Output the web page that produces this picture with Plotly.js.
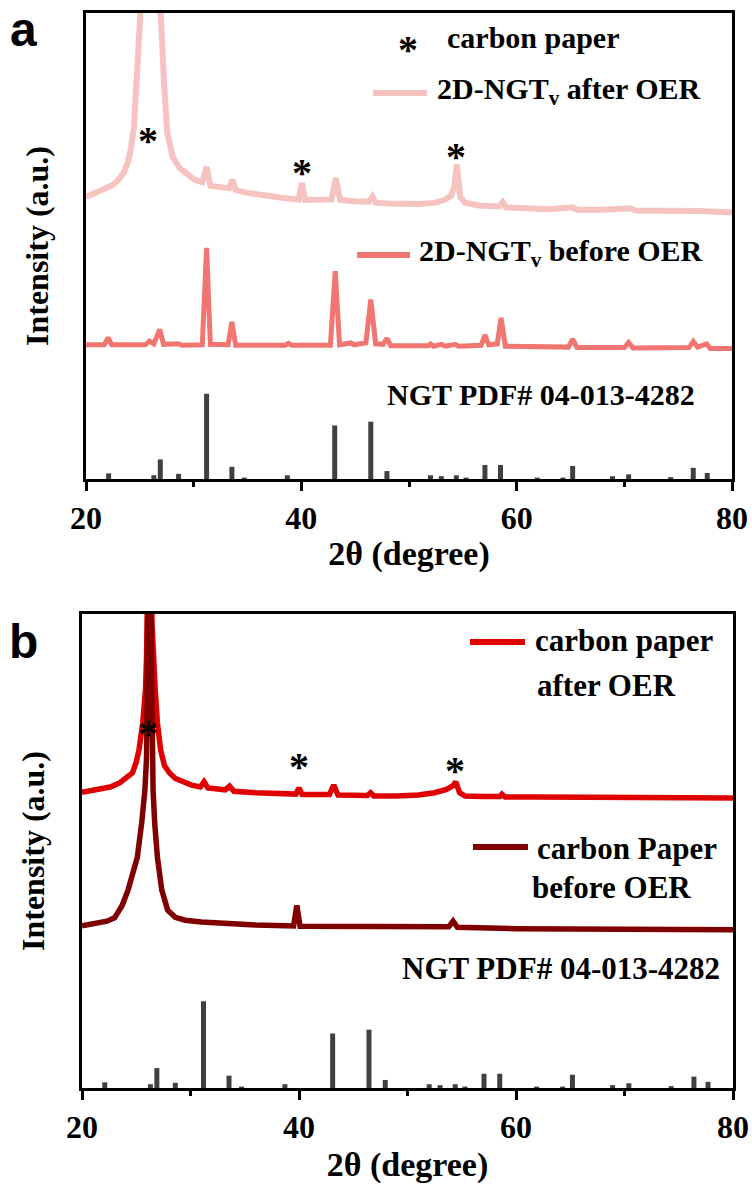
<!DOCTYPE html>
<html>
<head>
<meta charset="utf-8">
<script src="https://cdn.plot.ly/plotly-3.0.1.min.js"></script>
</head>
<body style="margin:0">
<div id="chart" style="width:752px;height:1196px"></div>
<script>
// ---------- Panel a : 2D-NGTv after OER ----------
const aAfterX = [20,20.8,21.7,22.5,23.0,23.5,23.9,24.15,24.45,24.75,25.1,25.35,25.6,26.05,26.5,26.8,26.95,27.25,27.55,28.05,28.7,29.4,30.1,30.8,31.2,31.55,32.5,33.3,33.6,33.9,35,36.5,38,39.75,40.05,40.35,41.5,42.8,43.2,43.6,45,46.3,46.6,46.9,48,49.5,51,52.5,53.3,53.9,54.2,54.45,54.75,55.2,56.5,58.4,58.7,59.0,61,63,65.2,65.6,68,70.6,71,74,77,80];
const aAfterY = [60.5,61.3,62.1,63.1,64.2,65.7,68,70.6,75.5,85,95.7,105,120,140,120,105,95.7,85,74.2,69.1,66.7,65.3,64.2,63.7,67.0,62.9,62.6,62.4,64.2,62.0,61.4,60.8,60.4,60.0,63.5,59.9,59.8,60.0,64.6,59.9,59.6,59.5,60.6,59.3,59.1,59.0,59.0,59.3,59.9,60.8,62.5,67.5,60.5,59.3,58.7,58.5,59.4,58.3,58.1,57.9,58.3,57.8,57.8,58.1,57.6,57.6,57.5,57.2];

// ---------- Panel a : 2D-NGTv before OER ----------
const aBeforeX = [20,21.7,22.05,22.4,25.5,25.9,26.3,26.85,27.2,28.3,28.6,28.9,30.8,31.2,31.55,33.2,33.55,33.9,38.5,38.8,39.1,42.7,43.15,43.55,44.3,44.6,44.9,46.0,46.45,46.9,47.6,47.95,48.3,51.8,52.0,52.3,53.0,53.4,54.3,54.6,56.7,57.05,57.4,58.2,58.55,58.95,64.8,65.2,65.6,70.0,70.4,70.8,76.0,76.4,76.8,77.65,78.0,80];
const aBeforeY = [28.8,28.8,30.3,28.8,28.8,29.6,29.0,32.1,28.9,28.8,29.0,28.7,28.8,49.6,28.9,28.8,33.7,28.7,28.7,29.1,28.7,28.7,44.6,28.8,28.9,29.2,28.8,29.2,38.5,29.0,28.9,30.2,28.6,28.6,29.0,28.5,28.9,28.5,28.9,28.5,28.7,30.9,28.8,29.0,34.6,28.5,28.3,30.0,28.2,28.2,29.3,28.1,28.2,29.5,28.3,29.0,28.0,28.0];

// ---------- NGT PDF# 04-013-4282 reference sticks (both panels) ----------
const pdfPos = [22.1,26.3,26.9,28.6,31.2,33.55,34.7,38.7,43.1,46.45,47.95,52.0,53.0,54.4,55.3,57.05,58.5,61.9,64.3,65.2,68.9,70.4,74.3,76.4,77.7];
const pdfHeight = [1.2,0.8,4.2,1.1,18.3,2.6,0.3,0.8,11.5,12.3,1.7,0.8,0.6,0.8,0.3,3.0,3.0,0.3,0.3,2.8,0.6,1.0,0.4,2.4,1.3];

// ---------- Panel b : carbon paper after OER ----------
const bAfterX = [20,21.5,22.6,23.5,24.2,24.65,25.0,25.25,25.6,25.85,25.95,26.05,26.25,26.45,26.55,26.75,26.95,27.25,27.6,28.05,28.6,29.3,30.1,30.9,31.25,31.6,33.2,33.6,34.0,36,38,39.7,40.0,40.3,42.8,43.2,43.6,46.3,46.6,46.9,49,51,52.5,53.6,54.2,54.45,54.8,55.3,57,58.5,58.7,59.0,62,66,70,75,80];
const bAfterY = [62.4,62.9,63.5,64.4,65.6,66.5,68.8,71.3,77,84,91,98,140,98,91,84,77,71.3,68,66.5,65.3,64.5,63.9,63.5,64.6,63.3,62.9,63.7,62.6,62.3,62.1,62.0,63.3,61.9,61.9,63.9,61.8,61.7,62.3,61.6,61.6,61.8,62.3,63.0,63.8,64.6,62.3,61.6,61.5,61.5,62.0,61.4,61.4,61.3,61.3,61.2,61.2];

// ---------- Panel b : carbon Paper before OER ----------
const bBeforeX = [20,21.5,22.3,23.0,23.7,24.25,24.7,25.1,25.5,25.8,25.95,26.1,26.2,26.35,26.45,26.55,26.7,26.95,27.35,27.9,28.6,29.5,31,33,36,39.5,39.8,40.1,44,50,53.8,54.2,54.6,60,70,80];
const bBeforeY = [34.2,34.7,35.2,35.9,38.5,41.8,45,48.7,55.9,62.9,69.8,100,135,100,69.8,62.9,55.9,48.7,41.8,37.5,36.0,35.4,35.0,34.7,34.4,34.2,38.5,34.1,34.0,33.9,34.0,35.2,33.9,33.6,33.5,33.4];

// ---------- carbon-paper star markers ----------
const starAX = [25.8, 40.05, 54.4];
const starAY = [74.5, 67.8, 71.2];
const starBX = [26.1, 40.0, 54.4];
const starBY = [76.6, 69.8, 68.8];

// ---------- tick labels ----------
const tickVals = [20, 40, 60, 80];
const tickText = ['20', '40', '60', '80'];

const W = 752, H = 1196;
const px = v => v / W;
const py = v => 1 - v / H;
const serifFont = size => ({family: 'Liberation Serif', size: size, color: '#000', weight: 'bold'});

function sticks(pos, hts) {
  const x = [], y = [];
  pos.forEach((p, i) => { x.push(p, p, null); y.push(0, hts[i], null); });
  return {x, y};
}
const sa = sticks(pdfPos, pdfHeight);

const traces = [
  {x: aAfterX, y: aAfterY, xaxis: 'x', yaxis: 'y', mode: 'lines', name: '2D-NGTv after OER',
   line: {color: '#f7c3c1', width: 6}},
  {x: aBeforeX, y: aBeforeY, xaxis: 'x', yaxis: 'y', mode: 'lines', name: '2D-NGTv before OER',
   line: {color: '#f17571', width: 5}},
  {x: sa.x, y: sa.y, xaxis: 'x', yaxis: 'y', mode: 'lines', name: 'NGT PDF# 04-013-4282',
   line: {color: '#404040', width: 5}, connectgaps: false},
  {x: bAfterX, y: bAfterY, xaxis: 'x2', yaxis: 'y2', mode: 'lines', name: 'carbon paper after OER',
   line: {color: '#e10000', width: 5.5}},
  {x: bBeforeX, y: bBeforeY, xaxis: 'x2', yaxis: 'y2', mode: 'lines', name: 'carbon Paper before OER',
   line: {color: '#800000', width: 5.5}},
  {x: sa.x, y: sa.y, xaxis: 'x2', yaxis: 'y2', mode: 'lines', name: 'NGT PDF# 04-013-4282',
   line: {color: '#404040', width: 5}, connectgaps: false}
];

function xAxis(domain, anchor, standoff) {
  return {
    domain: domain, anchor: anchor, range: [20, 80],
    showline: true, mirror: true, linewidth: 3, linecolor: '#000',
    showgrid: false, zeroline: false,
    ticks: 'outside', ticklen: 9, tickwidth: 3, tickcolor: '#000',
    tickvals: tickVals, ticktext: tickText,
    minor: {tickvals: [30, 50, 70], ticks: 'outside', ticklen: 5, tickwidth: 2.5, tickcolor: '#000'},
    tickfont: serifFont(32),
    title: {text: '2θ (degree)', font: serifFont(34), standoff: standoff}
  };
}
function yAxis(domain, anchor) {
  return {
    domain: domain, anchor: anchor, range: [0, 100],
    showline: true, mirror: true, linewidth: 3, linecolor: '#000',
    showgrid: false, zeroline: false, ticks: '', showticklabels: false,
    title: {text: 'Intensity (a.u.)', font: serifFont(32), standoff: 25}
  };
}

const ann = [];
function txt(text, x, y, font) {
  ann.push({text: text, xref: 'paper', yref: 'paper', x: px(x), y: py(y),
    xanchor: 'left', yanchor: 'middle', showarrow: false, font: font});
}
// panel letters
txt('a', 8, 30, {family: 'Liberation Sans', size: 48, color: '#000', weight: 'bold'});
txt('b', 7, 641, {family: 'Liberation Sans', size: 48, color: '#000', weight: 'bold'});
// panel a legend
txt('*', 396, 50, serifFont(40));
txt('carbon paper', 445, 37, serifFont(30));
txt('2D-NGT<sub>v</sub> after OER', 435, 91, serifFont(30));
txt('2D-NGT<sub>v</sub> before OER', 417, 253, serifFont(30));
txt('NGT PDF# 04-013-4282', 385, 395, serifFont(30));
// panel b legend
txt('carbon paper', 533, 640, serifFont(31));
txt('after OER', 535, 686, serifFont(31));
txt('carbon Paper', 535, 848, serifFont(31));
txt('before OER', 530, 888, serifFont(31));
txt('NGT PDF# 04-013-4282', 400, 968, serifFont(31));
// stars on peaks
starAX.forEach((x, i) => ann.push({text: '*', xref: 'x', yref: 'y', x: x, y: starAY[i], showarrow: false,
  xanchor: 'center', yanchor: 'middle', yshift: -9, font: serifFont(40)}));
starBX.forEach((x, i) => ann.push({text: '*', xref: 'x2', yref: 'y2', x: x, y: starBY[i], showarrow: false,
  xanchor: 'center', yanchor: 'middle', yshift: -9, font: serifFont(40)}));

function legLine(x0, x1, y, color) {
  return {type: 'line', xref: 'paper', yref: 'paper', x0: px(x0), x1: px(x1), y0: py(y), y1: py(y),
    line: {color: color, width: 6}};
}
const shapes = [
  legLine(373, 427, 93, '#f7c3c1'),
  legLine(357, 410, 255, '#f17571'),
  legLine(470, 525, 642, '#e10000'),
  legLine(473, 528, 847, '#800000')
];

const layout = {
  width: W, height: H,
  margin: {l: 0, r: 0, t: 0, b: 0},
  font: {family: 'Liberation Serif', color: '#000'},
  paper_bgcolor: '#fff', plot_bgcolor: '#fff',
  showlegend: false,
  xaxis: xAxis([px(86), px(732)], 'y', 6),
  yaxis: yAxis([py(479), py(13)], 'x'),
  xaxis2: xAxis([px(82), px(733)], 'y2', 8),
  yaxis2: yAxis([py(1088), py(614)], 'x2'),
  annotations: ann,
  shapes: shapes
};

Plotly.newPlot('chart', traces, layout, {displayModeBar: false});
</script>
</body>
</html>
